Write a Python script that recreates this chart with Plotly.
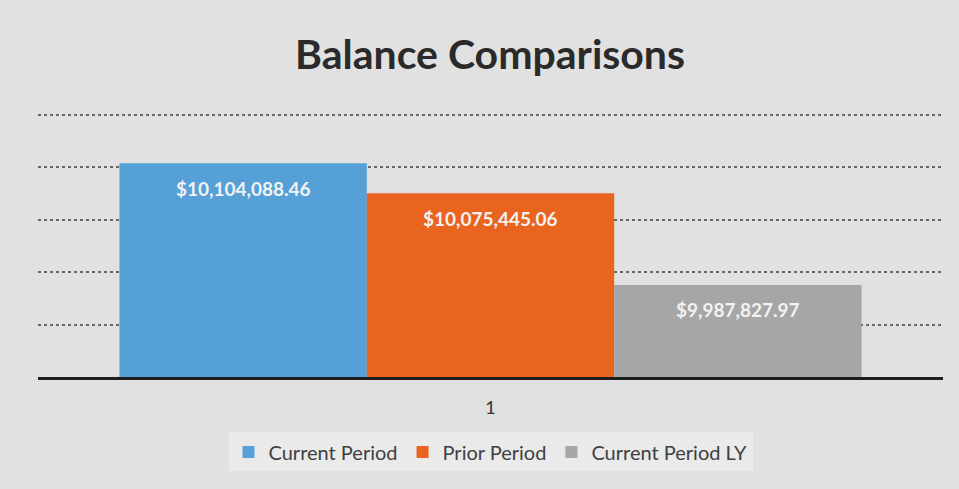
import plotly.graph_objects as go

categories = ["1"]
series_names = ["Current Period", "Prior Period", "Current Period LY"]
series_values = [10104088.46, 10075445.06, 9987827.97]
series_colors = ["#55a0d6", "#e8641f", "#a6a6a6"]

BARGAP = 0.18
FONT = "Lato, Open Sans, sans-serif"

fig = go.Figure()
for name, val, col in zip(series_names, series_values, series_colors):
    fig.add_trace(go.Bar(
        x=categories, y=[val], name=name,
        marker=dict(color=col, line=dict(width=0)),
        hoverinfo="skip",
    ))

# data labels placed inside near the top of each bar
n = len(series_values)
bw = (1 - BARGAP) / n
for i, val in enumerate(series_values):
    fig.add_annotation(
        x=(i - (n - 1) / 2) * bw, y=val, xref="x", yref="y",
        text=f"<b>${val:,.2f}</b>", showarrow=False, yshift=-25,
        font=dict(family=FONT, size=19, color="#f2f2f2"),
    )

fig.update_layout(
    width=959, height=489,
    margin=dict(l=38, r=16, t=113, b=112),
    paper_bgcolor="#e1e1e1", plot_bgcolor="#e1e1e1",
    barmode="group", bargap=BARGAP, bargroupgap=0,
    title=dict(text="<b>Balance Comparisons</b>", x=0.511, xanchor="center",
               y=0.889, yanchor="middle",
               font=dict(family=FONT, size=41, color="#2a2a2a")),
    legend=dict(orientation="h", x=0.5, xanchor="center", y=-0.21, yanchor="top",
                bgcolor="rgba(240,240,240,0.6)",
                font=dict(family=FONT, size=20, color="#404040"),
                itemwidth=30, traceorder="normal"),
    xaxis=dict(type="category", showline=True, linecolor="#1e1e1e", linewidth=3,
               ticks="", ticklabelstandoff=12,
               tickfont=dict(family=FONT, size=18, color="#333"),
               showgrid=False),
    yaxis=dict(range=[9900000, 10152000], dtick=50000, tick0=9900000,
               showticklabels=False, showgrid=True, gridcolor="#666666",
               griddash="dot", gridwidth=1.5, zeroline=False, showline=False),
)

fig.write_html("out.html", config={"displayModeBar": False},
               post_script="document.body.style.margin='0';")
